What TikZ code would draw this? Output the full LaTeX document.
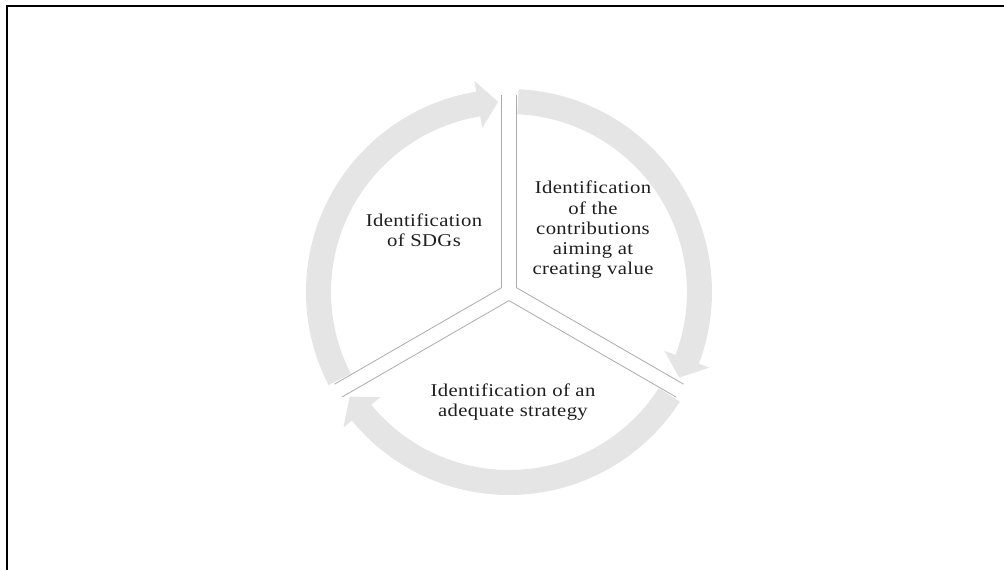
\documentclass[tikz,border=0pt]{standalone}
\usepackage{fontspec}
\setmainfont{Liberation Serif}[FakeStretch=1.15,LetterSpace=2]
\definecolor{ringc}{HTML}{E5E5E5}
\definecolor{edgec}{HTML}{ABABAB}
\definecolor{txtc}{HTML}{1E1E1E}
\begin{document}
\begin{tikzpicture}[x=1pt,y=1pt,
  lbl/.style={align=center,text=txtc,font=\fontsize{18}{20.3}\selectfont,inner sep=0pt},
  sedge/.style={draw=edgec,line width=0.8pt},
  frame/.style={draw=black,line width=1.8pt}]
\useasboundingbox (-509,-278) rectangle (495,292);
% frame (top and left only)
\draw[frame] (495,286) -- (-502,286) -- (-502,-278);
% ring radii
\def\Ro{203}\def\Ri{178}\def\Rc{190.5}\def\Ho{214}\def\Hi{166}
% three curved arrows
\foreach \s in {87.3,-32.7,-152.7}{
  \pgfmathsetmacro{\b}{\s-108}
  \pgfmathsetmacro{\t}{\s-114}
  \fill[ringc] (\s:\Ro) arc[start angle=\s,end angle=\b,radius=\Ro]
     -- (\b:\Ho) -- (\t:\Rc) -- (\b:\Hi) -- (\b:\Ri)
     arc[start angle=\b,end angle=\s,radius=\Ri] -- cycle;
}
% sector edges
\coordinate (a1) at (30:8.6);
\coordinate (a2) at (-90:8.6);
\coordinate (a3) at (150:8.6);
\draw[sedge] (a1) -- ++(90:193);
\draw[sedge] (a1) -- ++(-30:193);
\draw[sedge] (a2) -- ++(-30:193);
\draw[sedge] (a2) -- ++(210:193);
\draw[sedge] (a3) -- ++(210:193);
\draw[sedge] (a3) -- ++(90:193);
% labels
\node[lbl] (sdg) at (-85,62) {Identification\\of SDGs};
\node[lbl] (contrib) at (84,62) {Identification\\of the\\contributions\\aiming at\\creating value};
\node[lbl] (strat) at (4,-110) {Identification of an\\adequate strategy};
\end{tikzpicture}
\end{document}
